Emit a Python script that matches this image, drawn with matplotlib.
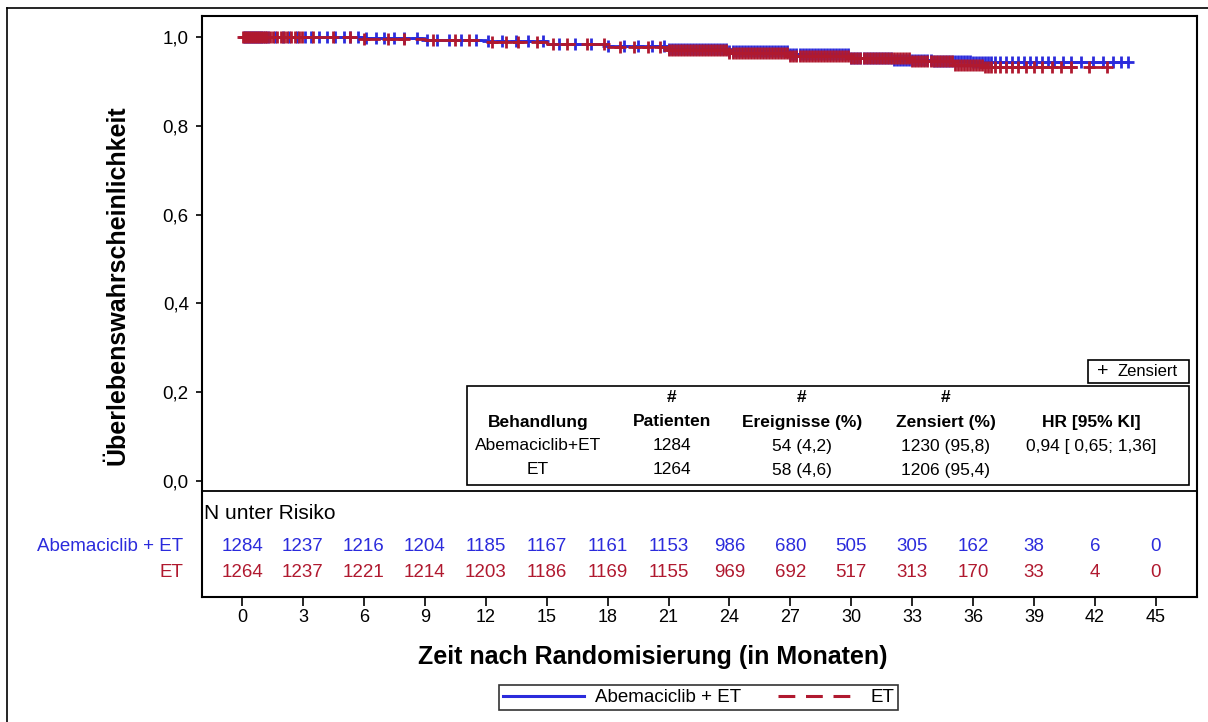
import numpy as np
import matplotlib
matplotlib.use("Agg")
import matplotlib.pyplot as plt
from matplotlib.lines import Line2D
from matplotlib.patches import Rectangle

plt.rcParams['font.family'] = ['Liberation Sans', 'DejaVu Sans']
NARROW = ['Liberation Sans Narrow', 'Liberation Sans', 'DejaVu Sans']

# ---------------- data ----------------
groups = ["Abemaciclib + ET", "ET"]

# Kaplan-Meier step points (months, survival)
km_a_t = [0, 3, 6, 9, 12, 15, 18, 21, 24, 27, 30, 32, 34, 36, 43.6]
km_a_s = [1.000, 0.999, 0.997, 0.994, 0.990, 0.985, 0.980, 0.974, 0.968, 0.961, 0.953, 0.948, 0.945, 0.944, 0.944]
km_b_t = [0, 3, 6, 9, 12, 15, 18, 21, 24, 27, 30, 33, 35, 36.5, 42.8]
km_b_s = [1.000, 0.999, 0.996, 0.993, 0.989, 0.984, 0.978, 0.971, 0.964, 0.958, 0.953, 0.946, 0.938, 0.932, 0.930]

# censoring times (months)
cens_a = [0.1, 0.2, 0.3, 0.4, 0.5, 0.6, 0.7, 0.8, 0.9, 1.0, 1.15, 1.3, 1.6, 2.0, 2.3,
          2.7, 3.1, 3.4, 3.8, 4.2, 4.6, 5.0, 5.3, 5.7, 6.1, 6.6, 7.0, 7.5, 8.0, 8.6, 9.1,
          9.6, 10.2, 10.8, 11.5, 12.1, 12.8, 13.5, 14.1, 14.8, 15.6, 16.4, 17.2, 18.0,
          18.8, 19.5, 20.2, 20.8,
          21.0, 21.15, 21.3, 21.45, 21.6, 21.75, 21.9, 22.05, 22.2, 22.35, 22.5, 22.65,
          22.8, 22.95, 23.1, 23.25, 23.4, 23.55, 23.7, 23.85, 24.0, 24.15, 24.3, 24.45,
          24.6, 24.75, 24.9, 25.05, 25.2, 25.35, 25.5, 25.65, 25.8, 25.95, 26.1, 26.25,
          26.4, 26.55, 26.7, 26.85, 27.0, 27.15, 27.3, 27.45, 27.6, 27.75, 27.9, 28.05,
          28.2, 28.35, 28.5, 28.65, 28.8, 28.95, 29.1, 29.25, 29.4, 29.55, 29.7, 29.85,
          30.0, 30.15, 30.3, 30.45, 30.6, 30.75, 30.9, 31.05, 31.2, 31.35, 31.5, 31.65,
          31.8, 31.95, 32.1, 32.25, 32.4, 32.55, 32.7, 32.85, 33.0, 33.15, 33.3, 33.45,
          33.6, 33.75, 33.9, 34.05, 34.2, 34.35, 34.5, 34.65, 34.8, 34.95, 35.1, 35.25,
          35.4, 35.55, 35.7, 35.85, 36.0, 36.15, 36.3, 36.45, 36.6, 36.75, 36.9, 37.05,
          37.3, 37.6, 37.9, 38.2, 38.5, 38.8, 39.1, 39.4, 39.7, 40.0, 40.4, 40.8, 41.3,
          41.9, 42.4, 42.9, 43.3, 43.6]
cens_b = [0.05, 0.15, 0.25, 0.35, 0.45, 0.55, 0.65, 0.75, 0.85, 0.95, 1.05, 1.15, 1.25,
          1.4, 1.55, 1.7, 1.9, 2.05, 2.2, 2.4, 2.6, 2.8, 2.95, 3.5, 4.5, 5.3, 6.0, 7.2,
          8.0, 9.4, 10.5, 11.2, 12.3, 13.0, 13.6, 14.5, 15.3, 16.0, 17.0, 17.8, 18.6,
          19.3, 20.0, 20.6,
          21.0, 21.15, 21.3, 21.45, 21.6, 21.75, 21.9, 22.05, 22.2, 22.35, 22.5, 22.65,
          22.8, 22.95, 23.1, 23.25, 23.4, 23.55, 23.7, 23.85, 24.0, 24.15, 24.3, 24.45,
          24.6, 24.75, 24.9, 25.05, 25.2, 25.35, 25.5, 25.65, 25.8, 25.95, 26.1, 26.25,
          26.4, 26.55, 26.7, 26.85, 27.0, 27.15, 27.3, 27.45, 27.6, 27.75, 27.9, 28.05,
          28.2, 28.35, 28.5, 28.65, 28.8, 28.95, 29.1, 29.25, 29.4, 29.55, 29.7, 29.85,
          30.0, 30.15, 30.3, 30.45, 30.6, 30.75, 30.9, 31.05, 31.2, 31.35, 31.5, 31.65,
          31.8, 31.95, 32.1, 32.25, 32.4, 32.55, 32.7, 32.85, 33.0, 33.15, 33.3, 33.45,
          33.6, 33.75, 33.9, 34.05, 34.2, 34.35, 34.5, 34.65, 34.8, 34.95, 35.1, 35.25,
          35.4, 35.55, 35.7, 35.85, 36.0, 36.15, 36.3, 36.45, 36.6, 36.75, 36.9, 37.05,
          37.3, 37.6, 37.9, 38.2, 38.6, 39.0, 39.4, 39.9, 40.3, 40.8, 41.7, 42.6]

risk_times = [0, 3, 6, 9, 12, 15, 18, 21, 24, 27, 30, 33, 36, 39, 42, 45]
risk_a = [1284, 1237, 1216, 1204, 1185, 1167, 1161, 1153, 986, 680, 505, 305, 162, 38, 6, 0]
risk_b = [1264, 1237, 1221, 1214, 1203, 1186, 1169, 1155, 969, 692, 517, 313, 170, 33, 4, 0]

yticks = [0.0, 0.2, 0.4, 0.6, 0.8, 1.0]
ytick_labels = ["0,0", "0,2", "0,4", "0,6", "0,8", "1,0"]

table_header1 = ["", "#", "#", "#", ""]
table_header2 = ["Behandlung", "Patienten", "Ereignisse (%)", "Zensiert (%)", "HR [95% KI]"]
table_row_a = ["Abemaciclib+ET", "1284", "54 (4,2)", "1230 (95,8)", "0,94 [ 0,65; 1,36]"]
table_row_b = ["ET", "1264", "58 (4,6)", "1206 (95,4)", ""]

BLUE = "#2B2BDC"
RED = "#B0192F"

W, H = 1208, 722
def fx(x):
    return x / W
def fy(y):
    return 1 - y / H

fig = plt.figure(figsize=(W / 100, H / 100), dpi=100)
ax = fig.add_axes([fx(202), fy(597), (1197 - 202) / W, (597 - 16) / H])
ax.set_xlim(-1.97, 47.02)
ax.set_ylim(-0.2613, 1.0473)

def step_val(tt, ts, ss):
    idx = np.searchsorted(np.array(ts), np.array(tt), side='right') - 1
    return np.array(ss)[np.clip(idx, 0, len(ss) - 1)]

ax.plot(km_a_t, km_a_s, drawstyle='steps-post', color=BLUE, lw=2.0, zorder=3)
ax.plot(km_b_t, km_b_s, drawstyle='steps-post', color=RED, lw=2.0, ls=(0, (5.5, 3.5)), zorder=4)
ax.plot(cens_a, step_val(cens_a, km_a_t, km_a_s), ls='none', marker='+', ms=9,
        mew=2.0, color=BLUE, zorder=3)
ax.plot(cens_b, step_val(cens_b, km_b_t, km_b_s), ls='none', marker='+', ms=9,
        mew=2.0, color=RED, zorder=4)

# separator between plot and risk table
ax.axhline(-0.0225, color='black', lw=1.3)

for sp in ax.spines.values():
    sp.set_linewidth(1.5)

ax.set_yticks(yticks)
ax.set_yticklabels(ytick_labels, fontsize=13.5)
ax.set_xticks(risk_times)
ax.set_xticklabels([str(t) for t in risk_times], fontsize=13)
ax.tick_params(axis='y', direction='out', length=4.5, width=1.2, pad=5)
ax.tick_params(axis='x', direction='out', length=6.5, width=1.2, pad=2.5)

# risk table
ax.text(-1.85, -0.0743, "N unter Risiko", fontsize=15, ha='left', va='center')
y_a, y_b = -0.1486, -0.2072
for t, na, nb in zip(risk_times, risk_a, risk_b):
    ax.text(t, y_a, str(na), color=BLUE, fontsize=13.5, ha='center', va='center')
    ax.text(t, y_b, str(nb), color=RED, fontsize=13.5, ha='center', va='center')
ax.text(-2.9, y_a, groups[0], color=BLUE, fontsize=13.5, ha='right', va='center', clip_on=False)
ax.text(-2.9, y_b, groups[1], color=RED, fontsize=13.5, ha='right', va='center', clip_on=False)

# axis labels
fig.text(fx(653), fy(657), "Zeit nach Randomisierung (in Monaten)", fontsize=18,
         fontweight='bold', ha='center', va='center')
fig.text(fx(118), fy(285), "Überlebenswahrscheinlichkeit", fontsize=18,
         fontweight='bold', ha='center', va='center', rotation=90)

# summary table
fig.add_artist(Rectangle((fx(467), fy(485)), (1189 - 467) / W, (485 - 386) / H,
                         transform=fig.transFigure, fill=False, ec='black', lw=1.2))
col_x = [538, 672, 802, 946, 1091]
rows = [(table_header1, 398, 'bold'), (table_header2, 422, 'bold'),
        (table_row_a, 446, 'normal'), (table_row_b, 470, 'normal')]
for cells, yy, wt in rows:
    for cx, txt in zip(col_x, cells):
        if txt:
            fig.text(fx(cx), fy(yy), txt, fontsize=12.5, fontweight=wt, ha='center',
                     va='center', family=NARROW)

# "+ Zensiert" box
fig.add_artist(Rectangle((fx(1088), fy(383)), (1189 - 1088) / W, (383 - 360) / H,
                         transform=fig.transFigure, fill=False, ec='black', lw=1.2))
fig.text(fx(1103), fy(371.5), "+", fontsize=14, ha='center', va='center')
fig.text(fx(1118), fy(372), "Zensiert", fontsize=12, ha='left', va='center', family=NARROW)

# legend
handles = [Line2D([], [], color=BLUE, lw=2.2),
           Line2D([], [], color=RED, lw=2.2, ls=(0, (5.5, 3.5)))]
leg = fig.legend(handles, groups, loc='center', bbox_to_anchor=(fx(698.5), fy(697.5)),
                 ncol=2, fontsize=13.5, frameon=True, fancybox=False, handlelength=4.3,
                 handletextpad=0.6, columnspacing=2.0, borderpad=0.22, borderaxespad=0)
leg.get_frame().set_edgecolor('black')
leg.get_frame().set_linewidth(1.2)

# outer frame (left and top)
fig.add_artist(Line2D([fx(7), fx(7)], [fy(8), 0], transform=fig.transFigure, color='black', lw=1.2))
fig.add_artist(Line2D([fx(7), 1], [fy(8), fy(8)], transform=fig.transFigure, color='black', lw=1.2))

fig.savefig("out.png", dpi=100)
